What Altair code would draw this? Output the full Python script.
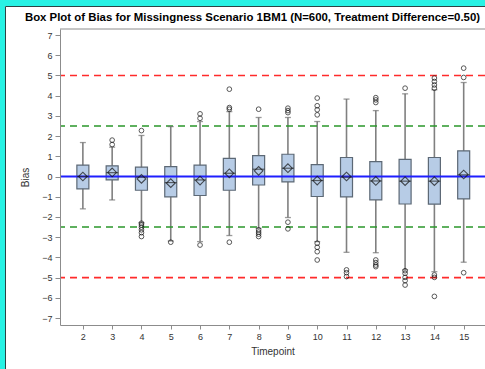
import altair as alt
import pandas as pd

TITLE = "Box Plot of Bias for Missingness Scenario 1BM1 (N=600, Treatment Difference=0.50)"

# Summary statistics of bias per timepoint
timepoints = [2, 3, 4, 5, 6, 7, 8, 9, 10, 11, 12, 13, 14, 15]
whisker_low = [-1.60, -1.16, -2.28, -3.19, -3.22, -2.92, -2.56, -2.03, -3.22, -3.75, -3.77, -4.62, -4.71, -4.24]
q1 = [-0.61, -0.17, -0.68, -1.01, -0.94, -0.68, -0.42, -0.27, -0.99, -1.01, -1.16, -1.36, -1.37, -1.11]
median = [0.00, 0.19, -0.03, -0.30, -0.17, 0.16, 0.36, 0.41, -0.20, -0.03, -0.22, -0.23, -0.23, 0.08]
q3 = [0.56, 0.53, 0.46, 0.49, 0.56, 0.90, 1.03, 1.10, 0.59, 0.94, 0.74, 0.85, 0.94, 1.27]
whisker_high = [1.68, 1.45, 2.03, 2.47, 2.72, 3.21, 2.92, 2.92, 2.72, 3.83, 3.26, 4.09, 4.29, 4.65]
mean = [0.00, 0.20, -0.12, -0.33, -0.20, 0.16, 0.28, 0.41, -0.20, 0.00, -0.22, -0.23, -0.23, 0.10]

# Individual outlying bias values
outlier_tp = [3, 3,
              4, 4, 4, 4, 4, 4, 4,
              5,
              6, 6, 6,
              7, 7, 7, 7,
              8, 8, 8, 8, 8,
              9, 9, 9, 9, 9,
              10, 10, 10, 10, 10, 10, 10, 10,
              11, 11, 11,
              12, 12, 12, 12, 12, 12, 12,
              13, 13, 13, 13, 13, 13,
              14, 14, 14, 14, 14, 14, 14,
              15, 15, 15]
outlier_val = [1.80, 1.58,
               2.27, -2.31, -2.40, -2.51, -2.64, -2.78, -2.97,
               -3.25,
               3.10, 2.88, -3.39,
               4.32, 3.41, 3.33, -3.25,
               3.33, -2.64, -2.75, -2.85, -2.97,
               3.38, 3.26, 3.16, -2.26, -2.59,
               3.88, 3.50, 3.30, 3.05, -3.30, -3.50, -3.72, -4.13,
               -4.62, -4.76, -4.95,
               3.90, 3.79, 3.66, -4.13, -4.26, -4.38, -4.46,
               4.37, -4.66, -4.79, -4.99, -5.15, -5.37,
               4.87, 4.70, 4.53, 4.37, -4.87, -4.99, -5.93,
               5.36, 4.90, -4.76]

# Reference lines
ref_red = [-5, 5]
ref_green = [-2.5, 2.5]
ref_zero = [0]

stats = pd.DataFrame({
    "Timepoint": timepoints, "low": whisker_low, "q1": q1, "median": median,
    "q3": q3, "high": whisker_high, "mean": mean,
})
outliers = pd.DataFrame({"Timepoint": outlier_tp, "Bias": outlier_val})

W, H = 425, 296
x_scale = alt.Scale(domain=[1.39, 15.557], nice=False, zero=False)
y_scale = alt.Scale(domain=[-7.346, 7.297], nice=False, zero=False)

x_axis = alt.Axis(values=timepoints, title="Timepoint", grid=False, tickSize=4,
                  labelPadding=3, titlePadding=5, domainColor="#8c8c8c",
                  tickColor="#8c8c8c", labelColor="#333333", titleColor="#333333",
                  labelFontSize=9, titleFontSize=10, labelFont="Liberation Sans",
                  titleFont="Liberation Sans", titleFontWeight="normal",
                  labelOverlap=False, zindex=1)
y_axis = alt.Axis(values=list(range(-7, 8)), title="Bias", grid=False, tickSize=5,
                  labelPadding=3, titlePadding=11, domainColor="#8c8c8c",
                  tickColor="#8c8c8c", labelColor="#333333", titleColor="#333333",
                  labelFontSize=9, titleFontSize=10, labelFont="Liberation Sans",
                  titleFont="Liberation Sans", titleFontWeight="normal",
                  labelOverlap=False, zindex=1)

X = alt.X("Timepoint:Q", scale=x_scale, axis=x_axis)


def Y(field):
    return alt.Y(field, scale=y_scale, axis=y_axis)


base = alt.Chart(stats)

whiskers = base.mark_rule(color="#808080", strokeWidth=1.6).encode(
    x=X, y=Y("low:Q"), y2="high:Q")
cap_low = base.mark_tick(orient="horizontal", size=6, thickness=1.3, color="#707070").encode(
    x=X, y=Y("low:Q"))
cap_high = base.mark_tick(orient="horizontal", size=6, thickness=1.3, color="#707070").encode(
    x=X, y=Y("high:Q"))
boxes = base.mark_bar(size=12, color="#b7cce6", stroke="#5c6875", strokeWidth=1.2).encode(
    x=X, y=Y("q1:Q"), y2="q3:Q")
medians = base.mark_tick(orient="horizontal", size=12, thickness=1.2, color="#2a2a2a").encode(
    x=X, y=Y("median:Q"))
means = base.mark_point(shape="diamond", filled=False, size=75, color="#111111",
                        strokeWidth=1.1).encode(x=X, y=Y("mean:Q"))
outs = alt.Chart(outliers).mark_point(shape="circle", filled=False, size=22,
                                      color="#111111", strokeWidth=1).encode(
    x=X, y=Y("Bias:Q"))


def ref_lines(values, color, dash, width):
    return alt.Chart(pd.DataFrame({"v": values})).mark_rule(
        color=color, strokeDash=dash, strokeWidth=width).encode(y=Y("v:Q"))


red = ref_lines(ref_red, "#ff2b2b", [7, 5], 1.6)
green = ref_lines(ref_green, "#2a962a", [7, 5], 1.6)
blue = ref_lines(ref_zero, "#1f1fff", [1, 0], 2)

one = pd.DataFrame({"k": [0]})
top_frame = alt.Chart(one).mark_rule(color="#8c8c8c", strokeWidth=1).encode(
    x=alt.value(0), x2=alt.value(W), y=alt.value(0))
title_text = alt.Chart(one).mark_text(
    text=TITLE, font="Liberation Sans", fontSize=11.4, fontWeight="bold",
    color="#000000", align="center", baseline="alphabetic",
).encode(x=alt.value(W / 2 - 20), y=alt.value(-8.5))
# surrounding cyan frame strips
left_strip = alt.Chart(one).mark_rect(color="#27f2e4").encode(
    x=alt.value(-60), x2=alt.value(-55), y=alt.value(-29), y2=alt.value(H + 44))
top_strip = alt.Chart(one).mark_rect(color="#27f2e4").encode(
    x=alt.value(-60), x2=alt.value(W), y=alt.value(-29), y2=alt.value(-23))
left_edge = alt.Chart(one).mark_rule(color="#2b4444", strokeWidth=1).encode(
    x=alt.value(-54.5), y=alt.value(-22.5), y2=alt.value(H + 44))
top_edge = alt.Chart(one).mark_rule(color="#2b4444", strokeWidth=1).encode(
    x=alt.value(-54.5), x2=alt.value(W), y=alt.value(-22.5))

chart = alt.layer(
    whiskers, red, green, cap_low, cap_high, boxes, blue, medians, means, outs,
    top_frame, title_text, left_strip, top_strip, left_edge, top_edge,
).properties(
    width=W, height=H,
    autosize=alt.AutoSizeParams(type="none"),
    padding={"left": 60, "top": 29, "right": 0, "bottom": 44},
    background="white",
).configure_view(stroke=None)

chart.save("out.html", embed_options={"renderer": "svg", "actions": False})
